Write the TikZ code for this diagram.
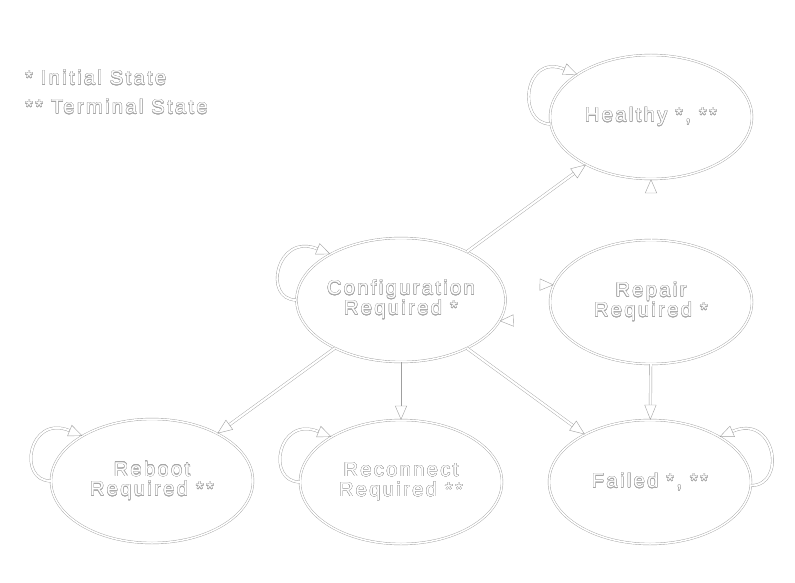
\documentclass[tikz,border=0pt]{standalone}
\usepackage{fontspec}
\setmainfont[LetterSpace=12]{Liberation Sans}
\usepackage{tikz}
\usepackage{contour}
\usetikzlibrary{shapes.geometric}
\usetikzlibrary{arrows.meta}
\contourlength{0.35pt}
\contournumber{16}
\newcommand{\otext}[1]{\contour{gray!70}{#1}}
\tikzset{every picture/.style={line width=0.4pt},
  state/.style={ellipse,draw=gray!75,double=white,double distance=1.5pt,minimum width=202pt,minimum height=124pt,inner sep=0pt,align=center,text=white,font=\fontsize{20}{20}\selectfont},
  legend/.style={anchor=west,inner sep=0pt,text=white,font=\fontsize{20}{20}\selectfont}}

\begin{document}
\begin{tikzpicture}[x=1pt,y=-1pt,
  link/.style={draw=gray!75,double=white,double distance=2.2pt,-{Triangle[open,length=15pt,width=12pt]}},
  thinlink/.style={draw=gray!75,-{Triangle[open,length=14pt,width=12pt]}},
  ghost/.style={draw=white,-{Triangle[open,length=14pt,width=12pt,color=gray!75]}},
  selfloop/.style={draw=gray!75,double=white,double distance=2pt,-{Triangle[open,length=14pt,width=12pt]}}]
\useasboundingbox (0,0) rectangle (795,583);
\node[legend] (leg1) at (25,78) {\otext{* Initial State}};
\node[legend] (leg2) at (25,107) {\otext{** Terminal State}};
\node[state] (hea) at (651,117) {\otext{Healthy *, **}};
\node[state] (cfg) at (401,300) {\otext{Configuration}\\\otext{Required *}};
\node[state] (rep) at (651,302) {\otext{Repair}\\\otext{Required *}};
\node[state] (reb) at (152,481) {\otext{Reboot}\\\otext{Required **}};
\node[state] (rec) at (401,482) {\otext{Reconnect}\\\otext{Required **}};
\node[state] (fai) at (650,482) {\otext{Failed *, **}};
\draw[link] (cfg) -- (hea);
\draw[link] (cfg) -- (reb);
\draw[link] (cfg) -- (fai);
\draw[thinlink] (cfg) -- (rec);
\draw[link] (rep) -- (fai);
\draw[ghost] (rep) -- (hea);
\draw[ghost] (cfg.9) -- (rep.170);
\draw[ghost] (rep.190) -- (cfg.348);
% self loops
\draw[selfloop] (hea.184) .. controls +(-34,0) and +(-54,-22) .. (hea.150);
\draw[selfloop] (cfg.180) .. controls +(-34,0) and +(-54,-22) .. (cfg.147);
\draw[selfloop] (reb.180) .. controls +(-34,0) and +(-54,-22) .. (reb.147);
\draw[selfloop] (rec.180) .. controls +(-34,0) and +(-54,-22) .. (rec.147);
\draw[selfloop] (fai.358) .. controls +(36,0) and +(56,-24) .. (fai.33);
\end{tikzpicture}
\end{document}
